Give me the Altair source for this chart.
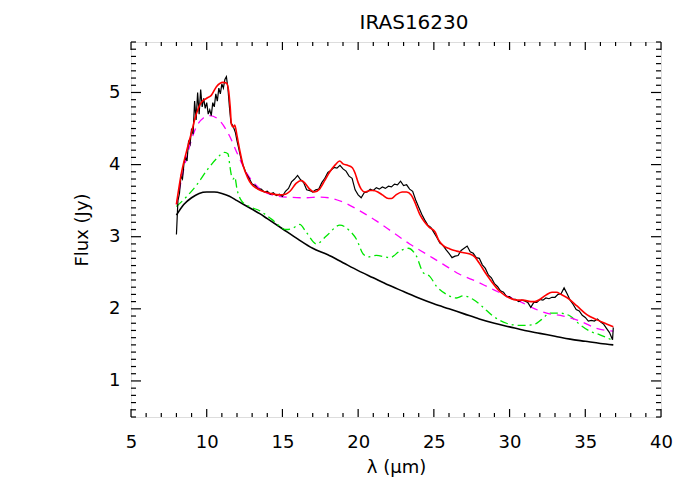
import altair as alt
import pandas as pd

# ---------------- data ----------------
obs_wave = [8.0, 8.1, 8.2, 8.3, 8.4, 8.5, 8.6, 8.7, 8.8, 8.9, 9.0, 9.1, 9.2, 9.3, 9.4, 9.5, 9.6, 9.7, 9.8, 9.9,
            10.0, 10.1, 10.2, 10.3, 10.4, 10.5, 10.6, 10.7, 10.8, 10.9, 11.0, 11.1, 11.2, 11.3, 11.4, 11.5, 11.6,
            11.7, 11.8, 11.9, 12.0, 12.1, 12.2, 12.3, 12.4, 12.6, 12.8, 13.0, 13.2, 13.4, 13.6, 13.8, 14.0, 14.2,
            14.4, 14.6, 14.8, 15.0, 15.2, 15.4, 15.6, 15.8, 16.0, 16.2, 16.4, 16.6, 16.8, 17.0, 17.2, 17.4, 17.6,
            17.8, 18.0, 18.2, 18.4, 18.6, 18.8, 19.0, 19.2, 19.4, 19.6, 19.8, 20.0, 20.2, 20.4, 20.6, 20.8, 21.0,
            21.2, 21.4, 21.6, 21.8, 22.0, 22.2, 22.4, 22.6, 22.8, 23.0, 23.2, 23.4, 23.6, 23.8, 24.0, 24.2, 24.4,
            24.6, 24.8, 25.0, 25.2, 25.4, 25.6, 25.8, 26.0, 26.2, 26.4, 26.6, 26.8, 27.0, 27.2, 27.4, 27.6, 27.8,
            28.0, 28.2, 28.4, 28.6, 28.8, 29.0, 29.2, 29.4, 29.6, 29.8, 30.0, 30.2, 30.4, 30.6, 30.8, 31.0, 31.2,
            31.4, 31.6, 31.8, 32.0, 32.2, 32.4, 32.6, 32.8, 33.0, 33.2, 33.4, 33.6, 33.8, 34.0, 34.2, 34.4, 34.6,
            34.8, 35.0, 35.2, 35.4, 35.6, 35.8, 36.0, 36.2, 36.4, 36.6, 36.8, 36.85]
obs_flux = [3.03, 3.50, 3.60, 3.84, 3.80, 4.02, 4.10, 4.05, 4.32, 4.28, 4.50, 4.42, 4.88, 4.62, 5.00, 4.70, 5.04,
            4.80, 4.92, 4.78, 4.86, 4.70, 4.76, 4.68, 4.86, 4.80, 4.98, 4.88, 5.06, 4.98, 5.12, 5.06, 5.18, 5.22,
            5.06, 4.80, 4.58, 4.55, 4.50, 4.44, 4.33, 4.24, 4.14, 4.06, 3.99, 3.88, 3.81, 3.73, 3.71, 3.66, 3.66,
            3.62, 3.63, 3.59, 3.61, 3.57, 3.59, 3.56, 3.63, 3.67, 3.76, 3.80, 3.85, 3.79, 3.75, 3.65, 3.64, 3.62,
            3.65, 3.66, 3.75, 3.81, 3.89, 3.92, 3.96, 3.95, 3.99, 3.94, 3.91, 3.84, 3.81, 3.65, 3.58, 3.54, 3.61,
            3.62, 3.66, 3.64, 3.68, 3.66, 3.69, 3.67, 3.70, 3.69, 3.73, 3.72, 3.77, 3.71, 3.72, 3.66, 3.63, 3.51,
            3.41, 3.31, 3.23, 3.16, 3.13, 3.06, 2.99, 2.91, 2.88, 2.82, 2.77, 2.71, 2.73, 2.74, 2.81, 2.84, 2.87,
            2.79, 2.77, 2.71, 2.70, 2.61, 2.56, 2.47, 2.43, 2.35, 2.31, 2.25, 2.23, 2.17, 2.17, 2.13, 2.13, 2.10,
            2.12, 2.11, 2.09, 2.02, 2.09, 2.09, 2.13, 2.12, 2.15, 2.14, 2.16, 2.16, 2.20, 2.21, 2.29, 2.21, 2.12,
            2.06, 1.99, 1.97, 1.91, 1.88, 1.83, 1.84, 1.83, 1.86, 1.82, 1.79, 1.73, 1.67, 1.57, 1.74]

model_wave = [8.0, 8.3, 8.65, 9.0, 9.31, 9.6, 10.0, 10.3, 10.64, 11.07, 11.3, 11.45, 11.55, 11.63, 11.75, 11.85,
              12.0, 12.2, 12.4, 12.7, 12.95, 13.3, 13.7, 14.2, 14.8, 15.2, 15.5, 15.9, 16.25, 16.5, 16.8, 17.1,
              17.45, 17.8, 18.1, 18.5, 18.78, 19.0, 19.3, 19.6, 19.8, 20.0, 20.2, 20.45, 20.8, 21.0, 21.3, 21.6,
              22.0, 22.2, 22.5, 22.9, 23.2, 23.5, 23.7, 24.07, 24.4, 24.7, 25.07, 25.3, 25.6, 26.06, 26.5, 26.9,
              27.38, 27.7, 28.04, 28.4, 28.7, 29.36, 30.0, 30.5, 30.9, 31.4, 31.67, 32.0, 32.4, 32.8, 33.1, 33.4,
              33.9, 34.45, 35.1, 35.75, 36.4, 36.85]
model_flux = [3.45, 3.85, 4.17, 4.45, 4.70, 4.85, 4.92, 4.96, 5.08, 5.14, 5.13, 5.02, 4.80, 4.56, 4.52, 4.55,
              4.40, 4.18, 3.99, 3.82, 3.73, 3.67, 3.63, 3.60, 3.58, 3.59, 3.63, 3.74, 3.78, 3.74, 3.66, 3.62,
              3.66, 3.78, 3.89, 4.00, 4.05, 4.01, 3.99, 3.96, 3.88, 3.75, 3.66, 3.62, 3.64, 3.64, 3.62, 3.58,
              3.53, 3.53, 3.58, 3.62, 3.62, 3.58, 3.50, 3.31, 3.20, 3.13, 3.07, 2.96, 2.88, 2.83, 2.80, 2.78,
              2.76, 2.72, 2.62, 2.50, 2.41, 2.24, 2.15, 2.12, 2.12, 2.10, 2.10, 2.13, 2.19, 2.23, 2.23, 2.20,
              2.14, 2.04, 1.92, 1.85, 1.79, 1.75]

dust_wave = [8.0, 8.65, 9.31, 9.8, 10.2, 10.85, 11.5, 12.07, 12.62, 13.28, 14.16, 15.26, 16.5, 17.5, 18.3, 19.0,
             20.1, 21.2, 22.3, 23.4, 24.5, 25.6, 26.7, 27.8, 28.6, 29.6, 30.7, 31.56, 32.45, 33.55, 34.65,
             35.75, 36.85]
dust_flux = [3.45, 4.08, 4.52, 4.65, 4.68, 4.61, 4.40, 4.13, 3.89, 3.71, 3.59, 3.55, 3.54, 3.55, 3.53, 3.48,
             3.36, 3.22, 3.06, 2.90, 2.76, 2.62, 2.48, 2.38, 2.30, 2.20, 2.10, 2.01, 1.94, 1.90, 1.83, 1.73, 1.69]

feat_wave = [8.0, 8.65, 9.31, 10.08, 10.64, 11.19, 11.4, 11.55, 11.63, 11.75, 11.85, 12.0, 12.29, 12.8, 13.5,
             14.3, 15.26, 15.7, 16.14, 16.58, 17.25, 17.9, 18.79, 19.45, 19.9, 20.33, 20.7, 21.2, 22.1, 22.75,
             23.3, 23.85, 24.3, 24.73, 25.18, 25.84, 26.5, 26.94, 27.6, 28.15, 28.9, 29.8, 30.68, 31.56, 32.1,
             32.67, 33.33, 34.0, 34.65, 35.3, 35.97, 36.74]
feat_flux = [3.42, 3.55, 3.71, 3.94, 4.08, 4.17, 4.15, 3.95, 3.85, 3.80, 3.83, 3.66, 3.50, 3.42, 3.36, 3.24,
             3.10, 3.12, 3.17, 3.06, 2.90, 3.01, 3.16, 3.08, 2.96, 2.76, 2.72, 2.74, 2.71, 2.80, 2.84, 2.73,
             2.50, 2.45, 2.31, 2.20, 2.15, 2.18, 2.13, 2.04, 1.90, 1.80, 1.77, 1.78, 1.85, 1.94, 1.94, 1.90,
             1.78, 1.69, 1.64, 1.57]

cont_wave = [8.0, 8.5, 9.0, 9.5, 10.0, 10.5, 11.0, 11.5, 12.0, 12.5, 13.0, 13.5, 14.0, 15.0, 16.0, 17.0, 18.0,
             19.0, 20.0, 21.0, 22.0, 23.0, 24.0, 25.0, 26.0, 27.0, 28.0, 29.0, 30.0, 31.0, 32.0, 33.0, 34.0,
             35.0, 36.0, 36.85]
cont_flux = [3.30, 3.45, 3.54, 3.60, 3.62, 3.62, 3.60, 3.56, 3.50, 3.44, 3.38, 3.32, 3.25, 3.11, 2.97, 2.84,
             2.75, 2.64, 2.53, 2.43, 2.33, 2.24, 2.15, 2.07, 2.00, 1.93, 1.86, 1.80, 1.75, 1.70, 1.66, 1.62,
             1.58, 1.55, 1.52, 1.50]

x_major = [5, 10, 15, 20, 25, 30, 35, 40]
y_major = [1, 2, 3, 4, 5]
x_minor = [v for v in range(5, 41) if v % 5 != 0]
y_minor = [round(0.5 + 0.1 * i, 1) for i in range(0, 53) if abs(round(0.5 + 0.1 * i, 1) % 1) > 1e-6]

title_text = "IRAS16230"
x_title = "λ (μm)"
y_title = "Flux (Jy)"

# ---------------- chart ----------------
W, H = 530, 375
FONT = "DejaVu Sans"
FS = 18

xs = alt.Scale(domain=[5, 40], nice=False, zero=False)
ys = alt.Scale(domain=[0.5, 5.7], nice=False, zero=False)

def line_layer(wave, flux, color, width, dash=None, smooth=True):
    df = pd.DataFrame({"w": wave, "f": flux})
    kw = dict(color=color, strokeWidth=width, clip=True)
    if smooth:
        kw["interpolate"] = "monotone"
    if dash is not None:
        kw["strokeDash"] = dash
    return alt.Chart(df).mark_line(**kw).encode(
        x=alt.X("w:Q", scale=xs,
                axis=alt.Axis(values=x_major, format="d", ticks=False, domain=False, grid=False,
                              labelFontSize=FS, labelFont=FONT, labelPadding=16, labelFlush=False,
                              labelOverlap=False, labelColor="black",
                              title=x_title, titleFont=FONT, titleFontSize=FS, titleFontWeight="normal",
                              titlePadding=7, titleColor="black")),
        y=alt.Y("f:Q", scale=ys,
                axis=alt.Axis(values=y_major, format="d", ticks=False, domain=False, grid=False,
                              labelFontSize=FS, labelFont=FONT, labelPadding=11, labelFlush=False,
                              labelOverlap=False, labelColor="black",
                              title=y_title, titleFont=FONT, titleFontSize=FS, titleFontWeight="normal",
                              titlePadding=17, titleColor="black")),
        order=alt.value(0),
    )

cont = line_layer(cont_wave, cont_flux, "black", 1.6)
feat = line_layer(feat_wave, feat_flux, "#00e600", 1.3, [8, 4, 2, 4])
dust = line_layer(dust_wave, dust_flux, "#ff00ff", 1.3, [8, 6])
obs = line_layer(obs_wave, obs_flux, "black", 1.2, smooth=False)
model = line_layer(model_wave, model_flux, "#ff0000", 1.6)

def xticks(vals, length):
    df = pd.DataFrame({"v": vals})
    bot = alt.Chart(df).mark_rule(color="black", strokeWidth=1.2).encode(
        x=alt.X("v:Q", scale=xs), y=alt.value(H), y2=alt.value(H - length))
    top = alt.Chart(df).mark_rule(color="black", strokeWidth=1.2).encode(
        x=alt.X("v:Q", scale=xs), y=alt.value(0), y2=alt.value(length))
    return [bot, top]

def yticks(vals, length):
    df = pd.DataFrame({"v": vals})
    left = alt.Chart(df).mark_rule(color="black", strokeWidth=1.2).encode(
        y=alt.Y("v:Q", scale=ys), x=alt.value(0), x2=alt.value(length))
    right = alt.Chart(df).mark_rule(color="black", strokeWidth=1.2).encode(
        y=alt.Y("v:Q", scale=ys), x=alt.value(W), x2=alt.value(W - length))
    return [left, right]

layers = [cont, feat, dust, obs, model]
layers += xticks(x_major, 8) + xticks(x_minor, 4)
layers += yticks(y_major, 10) + yticks(y_minor, 5)

chart = alt.layer(*layers).properties(
    width=W, height=H,
    title=alt.TitleParams(title_text, font=FONT, fontSize=20, fontWeight="normal", color="black",
                          anchor="middle", offset=8, dx=18),
    autosize=alt.AutoSizeParams(type="none"),
    padding={"left": 123, "top": 34, "right": 20, "bottom": 60},
).configure_view(stroke="black", strokeWidth=1.5).configure(background="white")

chart.save("out.html", embed_options={"renderer": "svg", "actions": False})
